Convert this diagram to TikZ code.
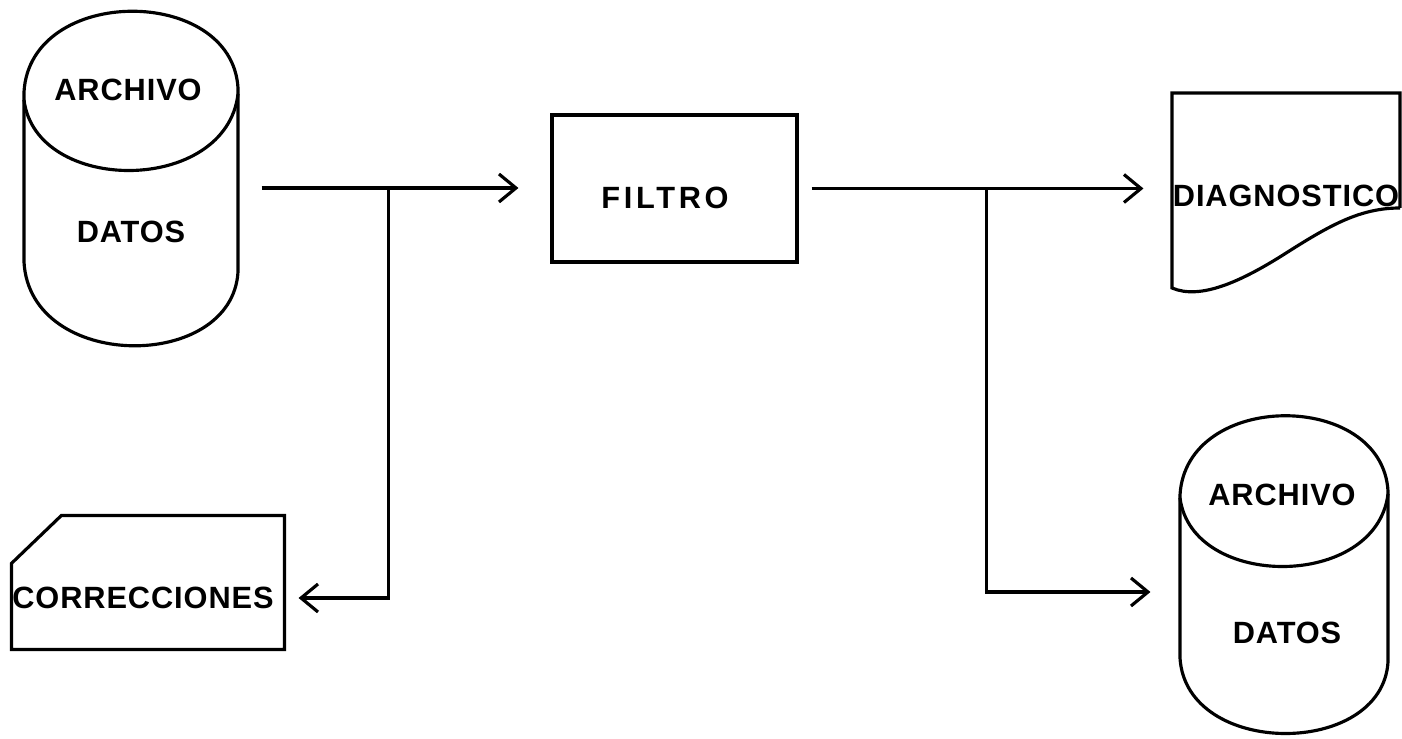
\documentclass[tikz,border=0pt]{standalone}
\usepackage{fontspec}
\setmainfont{Liberation Sans}[LetterSpace=3]
\usetikzlibrary{arrows.meta, positioning, calc}

\begin{document}
\begin{tikzpicture}[
  x=0.02cm, y=-0.02cm,
  line width=1.8pt,
  lbl/.style={font=\bfseries\fontsize{17.5}{20}\selectfont, inner sep=1pt},
  hold/.style={draw=none, rectangle, inner sep=0pt},
  arr/.style={-{Straight Barb[length=3.4mm, width=5.6mm, line width=1.8pt]}, line width=1.8pt}
]
  \useasboundingbox (0,0) rectangle (1402,739);

  \node[hold, minimum width=4.28cm, minimum height=6.4cm] (cyl1) at (131,188) {};
  \draw (24,92) .. controls (30,-15) and (232,-15) .. (238,88)
        -- (238,272) .. controls (232,372) and (30,372) .. (24,262) -- cycle;
  \draw (24,100) .. controls (36,195) and (226,195) .. (238,94);
  \node[lbl] (arch1) at (128,90) {ARCHIVO};
  \node[lbl] (dat1) at (131,232) {DATOS};

  \node[draw, minimum width=4.9cm, minimum height=2.94cm] (filtro) at (674.5,188.5) {};
  \node[lbl] (filtrotxt) at (665,198) {\addfontfeature{LetterSpace=12}FILTRO};

  \node[hold, minimum width=5.4cm, minimum height=2.62cm] (card) at (148,582.5) {};
  \draw (card.north west) ++(50,0) -- (card.north east) -- (card.south east)
        -- (card.south west) -- ([yshift=-0.96cm]card.north west) -- cycle;
  \node[lbl] (corr) at (143,598) {CORRECCIONES};

  \node[hold, minimum width=4.56cm, minimum height=3.9cm] (diag) at (1286,190.5) {};
  \draw (1400,208) -- (1400,93) -- (1172,93) -- (1172,288)
        .. controls (1200,300) and (1240,282) .. (1283,255)
        .. controls (1330,225) and (1360,208) .. (1400,208);
  \node[lbl] (diagtxt) at (1286,196) {DIAGNOSTICO};

  \node[hold, minimum width=4.16cm, minimum height=6.44cm] (cyl2) at (1284,574) {};
  \draw (1180,495) .. controls (1186,390) and (1382,390) .. (1388,491)
        -- (1388,662) .. controls (1382,758) and (1186,758) .. (1180,658) -- cycle;
  \draw (1180,498) .. controls (1192,590) and (1376,590) .. (1388,494);
  \node[lbl] (arch2) at (1282,495) {ARCHIVO};
  \node[lbl] (dat2) at (1287,633) {DATOS};

  \path (cyl1.east) ++(149,0) coordinate (j1);
  \path (filtro.east) ++(188,0) coordinate (j2);
  \draw[arr, shorten <=0.44cm, shorten >=0.64cm] (cyl1.east) -- (cyl1.east -| filtro.west);
  \draw[arr, shorten >=0.28cm] (j1) |- (card.east |- corr);
  \draw[arr, shorten <=0.26cm, shorten >=0.54cm] (filtro.east) -- (filtro.east -| diag.west);
  \draw[arr, shorten >=0.56cm] (j2) |- ([yshift=-0.36cm]cyl2.west);
\end{tikzpicture}
\end{document}
